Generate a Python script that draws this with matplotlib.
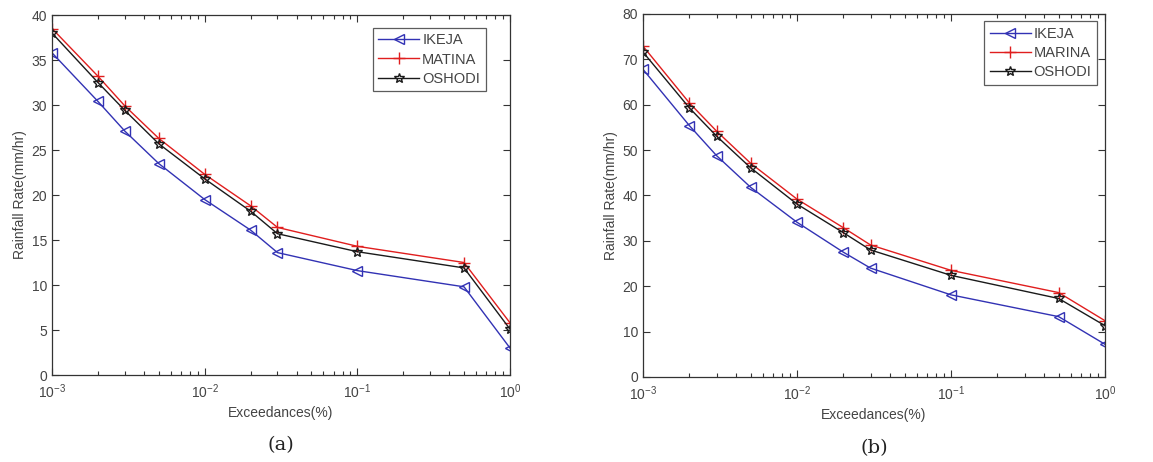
import matplotlib.pyplot as plt
import numpy as np

# exceedance percentages (same for both panels)
exceedance = [0.001, 0.002, 0.003, 0.005, 0.01, 0.02, 0.03, 0.1, 0.5, 1.0]

# panel (a) rainfall rates, mm/hr
ikeja_a = [35.8, 30.4, 27.1, 23.5, 19.5, 16.1, 13.6, 11.6, 9.8, 3.0]
matina_a = [38.5, 33.2, 29.9, 26.3, 22.3, 18.8, 16.4, 14.3, 12.5, 5.8]
oshodi_a = [38.0, 32.5, 29.4, 25.7, 21.8, 18.2, 15.7, 13.7, 11.9, 5.1]

# panel (b) rainfall rates, mm/hr
ikeja_b = [67.8, 55.4, 48.8, 41.8, 34.1, 27.5, 24.0, 18.1, 13.3, 7.2]
marina_b = [72.9, 60.4, 54.2, 47.1, 39.2, 32.9, 29.1, 23.5, 18.6, 12.4]
oshodi_b = [71.6, 59.3, 53.1, 46.1, 38.1, 31.8, 28.0, 22.4, 17.3, 11.3]

labels_a = ['IKEJA', 'MATINA', 'OSHODI']
labels_b = ['IKEJA', 'MARINA', 'OSHODI']

plt.rcParams['font.family'] = ['Liberation Sans', 'DejaVu Sans']
# log tick labels (10^-3 etc.) in the same sans font
plt.rcParams['mathtext.fontset'] = 'custom'
plt.rcParams['mathtext.rm'] = 'Liberation Sans'
plt.rcParams['mathtext.it'] = 'Liberation Sans'
plt.rcParams['mathtext.sf'] = 'Liberation Sans'

fig = plt.figure(figsize=(11.53, 4.62), dpi=100)
ax1 = fig.add_axes([0.0451, 0.1883, 0.3972, 0.7792])
ax2 = fig.add_axes([0.5577, 0.1840, 0.4007, 0.7857])

txt = '#444444'


def draw_panel(ax, series, labels, ymax, ystep, legend_box, caption):
    styles = [
        dict(color='#3232b4', marker='<', ms=7, mfc='none', mew=1.0),
        dict(color='#e01e1e', marker='+', ms=9, mew=1.0),
        dict(color='#1a1a1a', marker='*', ms=7, mfc='none', mew=1.0),
    ]
    for vals, lab, st in zip(series, labels, styles):
        ax.plot(exceedance, vals, lw=1.0, label=lab, **st)
    ax.set_xscale('log')
    ax.set_xlim(1e-3, 1)
    ax.set_ylim(0, ymax)
    ax.set_yticks(np.arange(0, ymax + 1, ystep))
    ax.tick_params(which='both', direction='in', top=True, right=True,
                   labelsize=10, colors='#333333', labelcolor=txt, width=0.8)
    ax.tick_params(which='major', length=5)
    ax.tick_params(which='minor', length=3)
    ax.tick_params(axis='x', pad=5)
    for sp in ax.spines.values():
        sp.set_color('#333333')
        sp.set_linewidth(0.9)
    ax.set_xlabel('Exceedances(%)', fontsize=10, color=txt, labelpad=4)
    ax.set_ylabel('Rainfall Rate(mm/hr)', fontsize=10, color=txt, labelpad=3)
    leg = ax.legend(loc='upper left', bbox_to_anchor=legend_box,
                    fontsize=10.5, frameon=True, fancybox=False,
                    handlelength=2.8, handletextpad=0.2, borderpad=0.4,
                    labelspacing=0.35, borderaxespad=0)
    leg.get_frame().set_edgecolor('#333333')
    leg.get_frame().set_linewidth(0.9)
    for t in leg.get_texts():
        t.set_color(txt)
    ax.text(0.5, -0.17, caption, transform=ax.transAxes, ha='center',
            va='top', fontsize=14, family='DejaVu Serif', color='#222222')


draw_panel(ax1, [ikeja_a, matina_a, oshodi_a], labels_a, 40, 5,
           (0.70, 0.965), '(a)')
draw_panel(ax2, [ikeja_b, marina_b, oshodi_b], labels_b, 80, 10,
           (0.738, 0.98), '(b)')

fig.savefig('out.png', dpi=100)
